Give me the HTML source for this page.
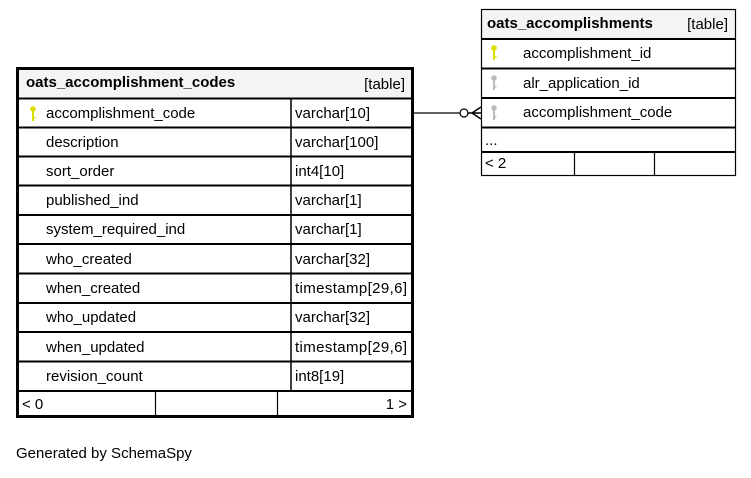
<!DOCTYPE html>
<html><head><meta charset="utf-8"><style>
html,body{margin:0;padding:0;background:#fff;}
svg text{font-family:"Liberation Sans","DejaVu Sans",sans-serif;font-size:15px;fill:#000;}
.b{font-weight:bold;}
</style></head><body>
<svg width="751" height="473" viewBox="0 0 751 473" xmlns="http://www.w3.org/2000/svg">
<defs>
<g id="ky"><circle cx="0" cy="0" r="2.8"/><rect x="-1" y="0" width="2" height="12"/><rect x="0" y="8" width="2.5" height="1.5"/></g>
</defs>
<!-- Left table -->
<rect x="19" y="70" width="392" height="28" fill="#f4f4f4"/>
<g stroke="#000" stroke-width="2" fill="none">
<line x1="18" y1="98.5" x2="412" y2="98.5"/>
<line x1="18" y1="127.5" x2="412" y2="127.5"/>
<line x1="18" y1="156.5" x2="412" y2="156.5"/>
<line x1="18" y1="185.5" x2="412" y2="185.5"/>
<line x1="18" y1="215" x2="412" y2="215"/>
<line x1="18" y1="244" x2="412" y2="244"/>
<line x1="18" y1="273.5" x2="412" y2="273.5"/>
<line x1="18" y1="303" x2="412" y2="303"/>
<line x1="18" y1="332" x2="412" y2="332"/>
<line x1="18" y1="361.5" x2="412" y2="361.5"/>
<line x1="18" y1="391" x2="412" y2="391"/>
</g>
<line x1="291" y1="98" x2="291" y2="391" stroke="#000" stroke-width="1.5"/>
<line x1="155.5" y1="391" x2="155.5" y2="416" stroke="#000" stroke-width="1.2"/>
<line x1="277.5" y1="391" x2="277.5" y2="416" stroke="#000" stroke-width="1.2"/>
<rect x="17.5" y="68.5" width="395" height="348" fill="none" stroke="#000" stroke-width="3"/>
<text x="26" y="87" class="b">oats_accomplishment_codes</text>
<text x="405" y="89" text-anchor="end">[table]</text>
<g fill="#dddd00" transform="translate(33,109)"><use href="#ky"/></g>
<text x="46" y="118">accomplishment_code</text><text x="295" y="118">varchar[10]</text>
<text x="46" y="147">description</text><text x="295" y="147">varchar[100]</text>
<text x="46" y="176">sort_order</text><text x="295" y="176">int4[10]</text>
<text x="46" y="205">published_ind</text><text x="295" y="205">varchar[1]</text>
<text x="46" y="234">system_required_ind</text><text x="295" y="234">varchar[1]</text>
<text x="46" y="264">who_created</text><text x="295" y="264">varchar[32]</text>
<text x="46" y="293">when_created</text><text x="295" y="293" textLength="112">timestamp[29,6]</text>
<text x="46" y="322">who_updated</text><text x="295" y="322">varchar[32]</text>
<text x="46" y="352">when_updated</text><text x="295" y="352" textLength="112">timestamp[29,6]</text>
<text x="46" y="381">revision_count</text><text x="295" y="381">int8[19]</text>
<text x="22" y="409">&lt; 0</text><text x="407" y="409" text-anchor="end">1 &gt;</text>
<!-- Right table -->
<rect x="481.5" y="9.5" width="254" height="29" fill="#f4f4f4"/>
<g stroke="#000" stroke-width="2">
<line x1="481" y1="39" x2="736" y2="39"/>
<line x1="481" y1="68.5" x2="736" y2="68.5"/>
<line x1="481" y1="98" x2="736" y2="98"/>
<line x1="481" y1="127.5" x2="736" y2="127.5"/>
<line x1="481" y1="152" x2="736" y2="152"/>
</g>
<line x1="574.5" y1="152" x2="574.5" y2="176" stroke="#000" stroke-width="1.2"/>
<line x1="654.5" y1="152" x2="654.5" y2="176" stroke="#000" stroke-width="1.2"/>
<rect x="481.5" y="9.5" width="254" height="166" fill="none" stroke="#000" stroke-width="1.2"/>
<text x="487" y="28" class="b">oats_accomplishments</text>
<text x="728" y="29" text-anchor="end">[table]</text>
<g fill="#dddd00" transform="translate(494,48)"><use href="#ky"/></g>
<g fill="#bbbbbb" transform="translate(494,78)"><use href="#ky"/></g>
<g fill="#bbbbbb" transform="translate(494,108)"><use href="#ky"/></g>
<text x="523" y="58">accomplishment_id</text>
<text x="523" y="88">alr_application_id</text>
<text x="523" y="117">accomplishment_code</text>
<text x="485" y="145">...</text>
<text x="485" y="168">&lt; 2</text>
<!-- connector -->
<line x1="414" y1="113" x2="460" y2="113" stroke="#000" stroke-width="1.2"/>
<circle cx="464" cy="113" r="4" fill="#fff" stroke="#000" stroke-width="1.2"/>
<g stroke="#000" stroke-width="1.5" fill="none">
<line x1="468" y1="113" x2="481" y2="113"/>
<line x1="472" y1="113" x2="481" y2="107"/>
<line x1="472" y1="113" x2="481" y2="119"/>
</g>
<text x="16" y="458">Generated by SchemaSpy</text>
</svg>
</body></html>
